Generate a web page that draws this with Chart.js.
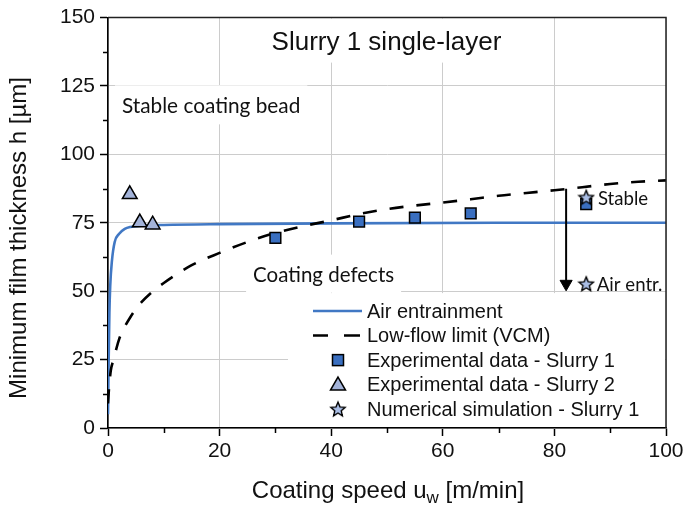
<!DOCTYPE html>
<html>
<head>
<meta charset="utf-8">
<title>Slurry 1 single-layer</title>
<script src="https://cdn.jsdelivr.net/npm/chart.js@4.4.0/dist/chart.umd.min.js"></script>
<style>
  html, body { margin: 0; padding: 0; background: #fff; }
  #wrap { width: 687px; height: 505px; position: relative; }
</style>
</head>
<body>
<div id="wrap"><canvas id="filmChart" width="687" height="505"></canvas></div>
<script>
// air entrainment limit
const airSpeed = [0, 0.1, 0.25, 0.4, 0.7, 1.2, 2, 3, 4, 6, 10, 20, 40, 70, 100];
const airThick = [5, 22, 42, 52, 61, 68, 71, 72.8, 73.5, 73.9, 74.2, 74.5, 74.8, 75, 75];

// low-flow limit from the viscocapillary model
const vcmSpeed = [0, 0.2, 0.5, 1, 1.5, 2, 3, 4, 5, 6, 7.5, 10, 15, 20, 25, 30, 35, 40, 45, 50, 55, 60, 65, 70, 75, 80, 85, 90, 95, 100];
const vcmThick = [9, 15, 21, 25, 29, 32.5, 37, 40.5, 43.5, 46, 49, 53, 59.5, 64, 68, 71.3, 73.8, 75.9, 78.2, 80, 81.3, 82.4, 83.6, 84.9, 85.9, 86.9, 88, 89.2, 90, 90.5];

// measurements
const slurry1Speed = [30, 45, 55, 65, 85.7];
const slurry1Thick = [69.5, 75.4, 76.9, 78.4, 81.8];
const slurry2Speed = [3.9, 5.7, 8];
const slurry2Thick = [85.4, 75.1, 74.3];

// simulation runs: stable / air entrainment
const simSpeed = [85.7, 85.7];
const simThick = [84.3, 52.7];

// arrow from the VCM limit down to the simulated failure
const arrowSpeed = [82.1, 82.1];
const arrowThick = [87.4, 52.7];

const xTicks = [0, 20, 40, 60, 80, 100];
const yTicks = [0, 25, 50, 75, 100, 125, 150];
const xMinor = [10, 30, 50, 70, 90];
const yMinor = [12.5, 37.5, 62.5, 87.5, 112.5, 137.5];

const BLUE = '#4178c4';
const SQUARE_FILL = '#3a6fc0';
const TRI_FILL = '#a3b3d9';
const STAR_FILL = '#aabee5';
const SANS = '"Liberation Sans", Arial, sans-serif';
const CAL = 'Lato, "Open Sans", sans-serif';

const pts = (xs, ys) => xs.map((x, i) => ({ x: x, y: ys[i] }));

function starPath(ctx, cx, cy, ro, ri) {
  ctx.beginPath();
  for (let i = 0; i < 10; i++) {
    const r = i % 2 ? ri : ro;
    const a = -Math.PI / 2 + i * Math.PI / 5;
    const px = cx + r * Math.cos(a), py = cy + r * Math.sin(a);
    if (i) ctx.lineTo(px, py); else ctx.moveTo(px, py);
  }
  ctx.closePath();
}

function makeStar(size) {
  const c = document.createElement('canvas');
  c.width = c.height = size;
  const g = c.getContext('2d');
  const ro = size / 2 - 1.5;
  starPath(g, size / 2, size / 2 + 0.6, ro, ro * 0.45);
  g.fillStyle = STAR_FILL;
  g.fill();
  g.lineWidth = 1.4;
  g.strokeStyle = '#000';
  g.stroke();
  return c;
}
const starImg = makeStar(18);

// text placed in data coordinates; box = white patch behind the text
const notes = [
  { text: 'Slurry 1 single-layer', x: 49.9, y: 138.3, font: '26px ' + SANS, align: 'center', box: true },
  { text: 'Stable coating bead', x: 2.5, y: 115, font: '20.8px ' + CAL, align: 'left', box: true },
  { text: 'Coating defects', x: 26, y: 53.5, font: '20.5px ' + CAL, align: 'left', box: true },
  { text: 'Stable', x: 87.8, y: 81.5, font: '18.6px ' + CAL, align: 'left' },
  { text: 'Air entr.', x: 87.6, y: 50, font: '18.6px ' + CAL, align: 'left' }
];

const legendRows = [
  { label: 'Air entrainment', kind: 'line' },
  { label: 'Low-flow limit (VCM)', kind: 'dash' },
  { label: 'Experimental data - Slurry 1', kind: 'square' },
  { label: 'Experimental data - Slurry 2', kind: 'triangle' },
  { label: 'Numerical simulation - Slurry 1', kind: 'star' }
];

function noteBox(ctx, n, chart) {
  const xs = chart.scales.x, ys = chart.scales.y, area = chart.chartArea;
  ctx.font = n.font;
  const m = ctx.measureText(n.text);
  const px = xs.getPixelForValue(n.x), py = ys.getPixelForValue(n.y);
  const x0 = n.align === 'center' ? px - m.width / 2 : px;
  const pad = 7;
  let top = py - m.fontBoundingBoxAscent - pad;
  const bottom = py + m.fontBoundingBoxDescent + pad;
  top = Math.max(top, area.top + 1);
  ctx.fillStyle = '#fff';
  ctx.fillRect(x0 - pad, top, m.width + 2 * pad, bottom - top);
}

const decor = {
  id: 'decor',
  beforeDatasetsDraw(chart) {
    const ctx = chart.ctx, area = chart.chartArea, ys = chart.scales.y;
    ctx.save();
    notes.filter(n => n.box).forEach(n => noteBox(ctx, n, chart));
    // legend background
    const lx = area.left + 180, ly = ys.getPixelForValue(49.3);
    ctx.fillStyle = '#fff';
    ctx.fillRect(lx, ly, area.right - lx - 1, area.bottom - ly - 1);
    ctx.restore();
  },
  afterDatasetsDraw(chart) {
    const ctx = chart.ctx, area = chart.chartArea;
    const xs = chart.scales.x, ys = chart.scales.y;
    ctx.save();

    // frame on top and right
    ctx.strokeStyle = '#222';
    ctx.lineWidth = 1.5;
    ctx.beginPath();
    ctx.moveTo(area.left, area.top);
    ctx.lineTo(area.right, area.top);
    ctx.lineTo(area.right, area.bottom);
    ctx.stroke();

    // minor ticks
    ctx.strokeStyle = '#000';
    ctx.lineWidth = 1.5;
    ctx.beginPath();
    yMinor.forEach(v => {
      const p = Math.round(ys.getPixelForValue(v)) + 0.5;
      ctx.moveTo(area.left - 5, p);
      ctx.lineTo(area.left, p);
    });
    xMinor.forEach(v => {
      const p = Math.round(xs.getPixelForValue(v)) + 0.5;
      ctx.moveTo(p, area.bottom);
      ctx.lineTo(p, area.bottom + 5);
    });
    ctx.stroke();

    // annotations
    ctx.fillStyle = '#111';
    ctx.textBaseline = 'alphabetic';
    notes.forEach(n => {
      ctx.font = n.font;
      ctx.textAlign = n.align;
      ctx.fillText(n.text, xs.getPixelForValue(n.x), ys.getPixelForValue(n.y));
    });

    // legend
    const lx = area.left + 180, ly = ys.getPixelForValue(49.3);
    ctx.font = '20px ' + SANS;
    ctx.textAlign = 'left';
    ctx.textBaseline = 'middle';
    legendRows.forEach((r, i) => {
      const y = ly + 18 + i * 24.5;
      const mx = lx + 50;
      ctx.save();
      if (r.kind === 'line') {
        ctx.strokeStyle = BLUE; ctx.lineWidth = 2.5;
        ctx.beginPath(); ctx.moveTo(lx + 25, y); ctx.lineTo(lx + 74, y); ctx.stroke();
      } else if (r.kind === 'dash') {
        ctx.strokeStyle = '#000'; ctx.lineWidth = 2.5;
        ctx.beginPath();
        ctx.moveTo(lx + 25, y); ctx.lineTo(lx + 40, y);
        ctx.moveTo(lx + 56, y); ctx.lineTo(lx + 72, y);
        ctx.stroke();
      } else if (r.kind === 'square') {
        ctx.fillStyle = SQUARE_FILL; ctx.strokeStyle = '#000'; ctx.lineWidth = 1.5;
        ctx.fillRect(mx - 5.5, y - 5.5, 11, 11); ctx.strokeRect(mx - 5.5, y - 5.5, 11, 11);
      } else if (r.kind === 'triangle') {
        ctx.fillStyle = TRI_FILL; ctx.strokeStyle = '#000'; ctx.lineWidth = 1.5;
        ctx.beginPath();
        ctx.moveTo(mx, y - 7.5); ctx.lineTo(mx + 7.5, y + 5.5); ctx.lineTo(mx - 7.5, y + 5.5);
        ctx.closePath(); ctx.fill(); ctx.stroke();
      } else {
        ctx.drawImage(starImg, mx - starImg.width / 2, y - starImg.height / 2);
      }
      ctx.restore();
      ctx.fillStyle = '#111';
      ctx.fillText(r.label, lx + 79, y + 1);
    });

    // axis titles
    ctx.fillStyle = '#111';
    ctx.textBaseline = 'alphabetic';
    ctx.font = '24px ' + SANS;
    const a = 'Coating speed u', b = 'w', c = ' [m/min]';
    const wa = ctx.measureText(a).width, wc = ctx.measureText(c).width;
    ctx.font = '17px ' + SANS;
    const wb = ctx.measureText(b).width;
    let tx = (area.left + area.right) / 2 + 1 - (wa + wb + wc) / 2;
    const base = 498;
    ctx.textAlign = 'left';
    ctx.font = '24px ' + SANS;
    ctx.fillText(a, tx, base);
    ctx.font = '17px ' + SANS;
    ctx.fillText(b, tx + wa, base + 5);
    ctx.font = '24px ' + SANS;
    ctx.fillText(c, tx + wa + wb, base);

    ctx.translate(26, 238);
    ctx.rotate(-Math.PI / 2);
    ctx.textAlign = 'center';
    ctx.fillText('Minimum film thickness h [\u00b5m]', 0, 0);
    ctx.restore();
  }
};

const ctx = document.getElementById('filmChart').getContext('2d');
new Chart(ctx, {
  type: 'scatter',
  data: {
    datasets: [
      {
        label: 'Numerical simulation - Slurry 1',
        data: pts(simSpeed, simThick),
        pointStyle: starImg,
        order: 0
      },
      {
        label: 'Experimental data - Slurry 1',
        data: pts(slurry1Speed, slurry1Thick),
        pointStyle: 'rect',
        pointRadius: 7.6,
        backgroundColor: SQUARE_FILL,
        borderColor: '#000',
        borderWidth: 1.5,
        order: 1
      },
      {
        label: 'Experimental data - Slurry 2',
        data: pts(slurry2Speed, slurry2Thick),
        pointStyle: 'triangle',
        pointRadius: 8.5,
        backgroundColor: TRI_FILL,
        borderColor: '#000',
        borderWidth: 1.5,
        order: 2
      },
      {
        label: 'arrow',
        data: pts(arrowSpeed, arrowThick),
        showLine: true,
        borderColor: '#000',
        borderWidth: 2,
        pointStyle: 'triangle',
        pointRadius: [0, 7],
        pointRotation: 180,
        pointBackgroundColor: '#000',
        pointBorderColor: '#000',
        pointBorderWidth: 1,
        order: 3
      },
      {
        label: 'Low-flow limit (VCM)',
        data: pts(vcmSpeed, vcmThick),
        showLine: true,
        borderColor: '#000',
        borderWidth: 2.6,
        borderDash: [14, 13],
        pointRadius: 0,
        cubicInterpolationMode: 'monotone',
        order: 4
      },
      {
        label: 'Air entrainment',
        data: pts(airSpeed, airThick),
        showLine: true,
        borderColor: BLUE,
        borderWidth: 2.6,
        pointRadius: 0,
        cubicInterpolationMode: 'monotone',
        order: 5
      }
    ]
  },
  options: {
    responsive: false,
    animation: false,
    devicePixelRatio: 1,
    layout: { padding: { top: 16, right: 21, left: 0, bottom: 0 } },
    plugins: {
      legend: { display: false },
      tooltip: { enabled: false }
    },
    scales: {
      x: {
        type: 'linear',
        min: 0,
        max: 100,
        afterFit: s => { s.height = 77; },
        afterBuildTicks: s => { s.ticks = xTicks.map(v => ({ value: v })); },
        grid: { color: '#cccccc', lineWidth: 1, tickColor: '#000', tickLength: 8, tickWidth: 1.5 },
        border: { color: '#000', width: 1.6 },
        ticks: { font: { family: SANS, size: 21 }, color: '#111', padding: 3, maxRotation: 0 }
      },
      y: {
        type: 'linear',
        min: 0,
        max: 150,
        afterFit: s => { s.width = 108; },
        afterBuildTicks: s => { s.ticks = yTicks.map(v => ({ value: v })); },
        grid: { color: '#cccccc', lineWidth: 1, tickColor: '#000', tickLength: 8, tickWidth: 1.5 },
        border: { color: '#000', width: 1.6 },
        ticks: { font: { family: SANS, size: 21 }, color: '#111', padding: 5 }
      }
    }
  },
  plugins: [decor]
});
</script>
</body>
</html>
